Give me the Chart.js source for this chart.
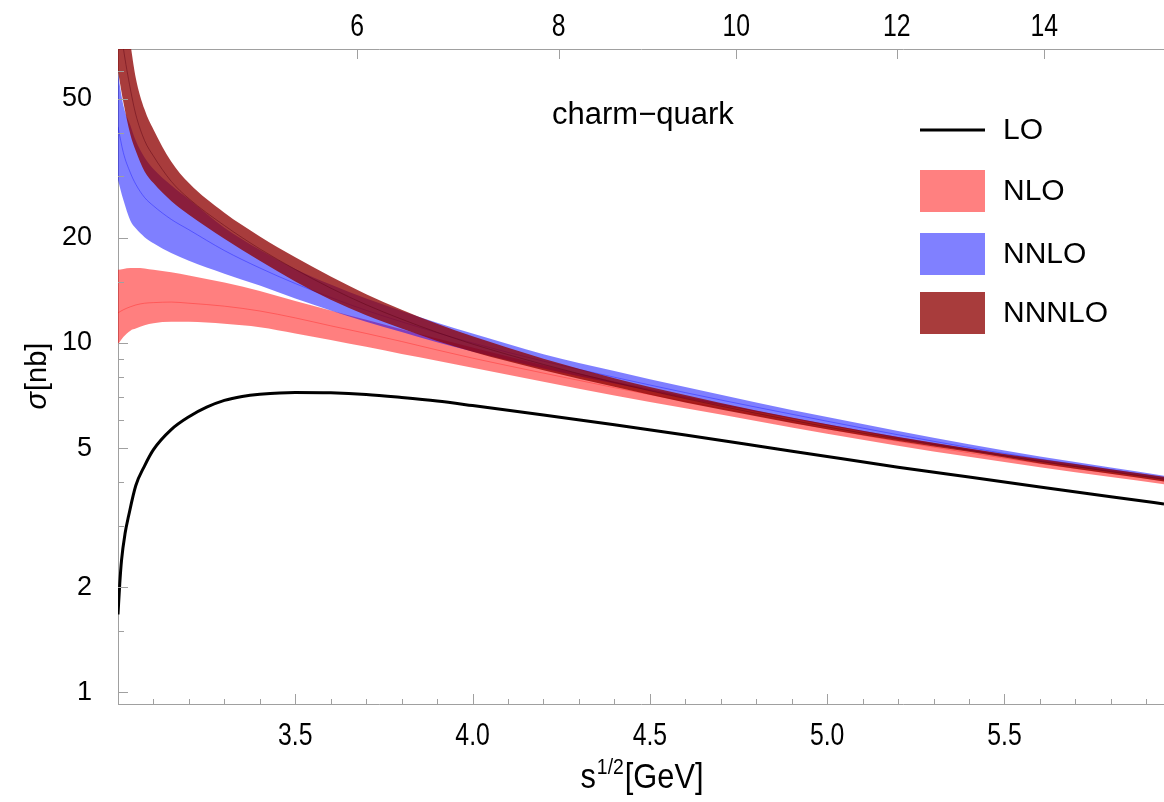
<!DOCTYPE html>
<html lang="en">
<head>
<meta charset="UTF-8">
<title>charm-quark cross section</title>
<script src="https://cdn.jsdelivr.net/npm/chart.js"></script>
<style>
  html, body { margin: 0; padding: 0; background: #fff; }
  #wrap { width: 1164px; height: 802px; }
</style>
</head>
<body>
<div id="wrap"><canvas id="sigmaChart"></canvas></div>
<script>
// sqrt(s) in GeV for the LO curve (denser near threshold)
const loEnergies = [3.0, 3.005, 3.01, 3.02, 3.03, 3.05, 3.075, 3.1, 3.15, 3.2, 3.25, 3.3, 3.35, 3.4, 3.5,
                    3.6, 3.7, 3.8, 3.9, 4.0, 4.2, 4.4, 4.6, 4.8, 5.0, 5.2, 5.4, 5.6, 5.8, 5.95];
const loSigma = [1.67, 2.05, 2.39, 2.85, 3.2, 3.9, 4.45, 4.95, 5.65, 6.15, 6.55, 6.85, 7.03, 7.13, 7.22,
                 7.2, 7.12, 6.98, 6.82, 6.62, 6.22, 5.83, 5.45, 5.08, 4.73, 4.41, 4.13, 3.87, 3.63, 3.46];

// sqrt(s) grid for the scale bands
const bandEnergies = [3.0, 3.015, 3.035, 3.05, 3.075, 3.1, 3.15, 3.2, 3.3, 3.4, 3.5, 3.6, 3.7, 3.8, 3.9,
                      4.0, 4.2, 4.4, 4.6, 4.8, 5.0, 5.2, 5.4, 5.6, 5.8, 5.95];

const nloLow  = [9.9, 10.4, 10.85, 11.0, 11.25, 11.4, 11.5, 11.5, 11.35, 11.1, 10.65, 10.2, 9.75, 9.3, 8.9,
                 8.5, 7.75, 7.07, 6.5, 5.98, 5.5, 5.08, 4.72, 4.41, 4.13, 3.94];
const nloMid  = [12.2, 12.45, 12.7, 12.85, 13.0, 13.05, 13.1, 13.0, 12.75, 12.35, 11.8, 11.2, 10.65, 10.1, 9.55,
                 9.05, 8.2, 7.45, 6.8, 6.22, 5.68, 5.23, 4.85, 4.52, 4.23, 4.03];
const nloHigh = [16.2, 16.3, 16.4, 16.4, 16.35, 16.2, 15.95, 15.6, 14.9, 14.1, 13.2, 12.4, 11.65, 10.95, 10.3,
                 9.7, 8.63, 7.76, 7.03, 6.4, 5.85, 5.38, 4.98, 4.62, 4.32, 4.1];

const nnloLow  = [29.3, 25.7, 22.4, 21.3, 20.1, 19.3, 18.1, 17.2, 15.8, 14.6, 13.4, 12.4, 11.5, 10.75, 10.05,
                  9.45, 8.45, 7.65, 6.95, 6.35, 5.81, 5.33, 4.92, 4.57, 4.28, 4.06];
const nnloMid  = [41.6, 35.1, 30.7, 28.5, 26.1, 24.7, 22.6, 21.1, 18.4, 16.4, 14.8, 13.5, 12.4, 11.5, 10.7,
                  10.0, 8.87, 7.98, 7.21, 6.55, 5.97, 5.46, 5.02, 4.65, 4.34, 4.11];
const nnloHigh = [59, 48, 42, 38, 34, 31.5, 28.3, 25.8, 21.4, 18.5, 16.3, 14.7, 13.4, 12.35, 11.43,
                  10.64, 9.29, 8.32, 7.48, 6.76, 6.14, 5.6, 5.13, 4.73, 4.4, 4.17];

const n3loLow  = [60, 49, 39.5, 35.5, 31.0, 28.7, 25.5, 23.3, 19.9, 17.2, 15.0, 13.3, 12.0, 11.0, 10.14,
                  9.44, 8.36, 7.5, 6.76, 6.17, 5.66, 5.24, 4.88, 4.52, 4.22, 4.01];
const n3loMid  = [91.7, 70, 53.3, 45.2, 38.0, 34.3, 29.05, 25.9, 21.7, 18.6, 16.25, 14.36, 12.87, 11.7, 10.73,
                  9.93, 8.68, 7.71, 6.93, 6.29, 5.75, 5.31, 4.93, 4.58, 4.28, 4.07];
const n3loHigh = [140, 100, 72, 57.5, 46.6, 40.9, 33.1, 28.7, 23.6, 20.2, 17.6, 15.5, 13.8, 12.45, 11.35,
                  10.45, 9.02, 7.93, 7.1, 6.41, 5.85, 5.38, 4.99, 4.65, 4.35, 4.14];

// ticks
const bottomTicks = [3.5, 4.0, 4.5, 5.0, 5.5];
const bottomMinorTicks = [3.1, 3.2, 3.3, 3.4, 3.6, 3.7, 3.8, 3.9, 4.1, 4.2, 4.3, 4.4, 4.6, 4.7, 4.8, 4.9,
                          5.1, 5.2, 5.3, 5.4, 5.6, 5.7, 5.8, 5.9];
const topTicks = [6, 8, 10, 12, 14];          // s / m_c^2
const mcSquared = 2.25;                       // m_c = 1.5 GeV
const yTicks = [1, 2, 5, 10, 20, 50];
const yMinorTicks = [1.5, 3, 4, 6, 7, 8, 9, 15, 30, 40, 60];

const legendLabels = ['LO', 'NLO', 'NNLO', 'NNNLO'];
const legendColors = ['#000000', 'rgb(255,128,128)', 'rgb(128,128,255)', 'rgb(168,60,60)'];

const FONT = "'Liberation Sans', Arial, sans-serif";
const frameColor = '#a0a0a0';

const pts = (xs, ys) => xs.map((x, i) => ({ x: x, y: ys[i] }));

function band(low, mid, high, fillColor, lineColor, order) {
    return [
        { data: pts(bandEnergies, low), borderWidth: 0, pointRadius: 0, fill: false, order: order },
        { data: pts(bandEnergies, high), borderWidth: 0, pointRadius: 0, fill: '-1',
          backgroundColor: fillColor, order: order },
        { data: pts(bandEnergies, mid), borderWidth: 1, borderColor: lineColor, pointRadius: 0,
          fill: false, order: order - 1 }
    ];
}

// draw text squeezed horizontally (the original uses a condensed face)
function narrowText(ctx, text, x, y, sx) {
    ctx.save();
    ctx.translate(x, y);
    ctx.scale(sx, 1);
    ctx.fillText(text, 0, 0);
    ctx.restore();
}

const decorations = {
    id: 'decorations',
    afterDraw(chart) {
        const { ctx, chartArea: a, scales } = chart;
        ctx.save();
        ctx.strokeStyle = frameColor;
        ctx.lineWidth = 1;
        ctx.beginPath();
        // bottom ticks (inward)
        bottomTicks.forEach(v => { const px = Math.round(scales.x.getPixelForValue(v)) + 0.5; ctx.moveTo(px, a.bottom); ctx.lineTo(px, a.bottom - 10); });
        bottomMinorTicks.forEach(v => { const px = Math.round(scales.x.getPixelForValue(v)) + 0.5; ctx.moveTo(px, a.bottom); ctx.lineTo(px, a.bottom - 5); });
        // top ticks
        topTicks.forEach(v => { const px = Math.round(scales.x2.getPixelForValue(Math.sqrt(v * mcSquared))) + 0.5; ctx.moveTo(px, a.top); ctx.lineTo(px, a.top + 10); });
        // left ticks
        yTicks.forEach(v => { const py = Math.round(scales.y.getPixelForValue(v)) + 0.5; ctx.moveTo(a.left, py); ctx.lineTo(a.left + 10, py); });
        yMinorTicks.forEach(v => { const py = Math.round(scales.y.getPixelForValue(v)) + 0.5; ctx.moveTo(a.left, py); ctx.lineTo(a.left + 6, py); });
        ctx.stroke();

        ctx.fillStyle = '#000';
        ctx.textBaseline = 'middle';
        // bottom / top tick labels
        ctx.font = '31px ' + FONT;
        ctx.textAlign = 'center';
        bottomTicks.forEach(v => narrowText(ctx, v.toFixed(1), scales.x.getPixelForValue(v), 736, 0.8));
        topTicks.forEach(v => narrowText(ctx, String(v), scales.x2.getPixelForValue(Math.sqrt(v * mcSquared)), 27, 0.8));
        ctx.textAlign = 'left';

        // annotation
        ctx.font = '31px ' + FONT;
        ctx.fillText('charm\u2212quark', 552, 115);

        // legend
        ctx.font = '30px ' + FONT;
        const rows = [130, 191, 254, 313];
        legendLabels.forEach((label, i) => {
            if (i === 0) {
                ctx.strokeStyle = legendColors[0];
                ctx.lineWidth = 3;
                ctx.beginPath(); ctx.moveTo(920, rows[0]); ctx.lineTo(985, rows[0]); ctx.stroke();
            } else {
                ctx.fillStyle = legendColors[i];
                ctx.fillRect(920, rows[i] - 21, 65, 42);
            }
            ctx.fillStyle = '#000';
            ctx.fillText(label, 1003, rows[i] + 1);
        });

        // x title: s^{1/2}[GeV]
        ctx.textBaseline = 'alphabetic';
        const sx = 0.88;
        const big = '35px ' + FONT, small = '22px ' + FONT;
        ctx.font = big; const w1 = ctx.measureText('s').width * sx, w3 = ctx.measureText('[GeV]').width * sx;
        ctx.font = small; const w2 = ctx.measureText('1/2').width * sx;
        const x0 = (a.left + a.right) / 2 - (w1 + w2 + w3) / 2;
        const base = 788;
        ctx.font = big; narrowText(ctx, 's', x0, base, sx);
        ctx.font = small; narrowText(ctx, '1/2', x0 + w1 + 1, base - 14, sx);
        ctx.font = big; narrowText(ctx, '[GeV]', x0 + w1 + w2 + 2, base, sx);

        // y title: sigma[nb]
        ctx.translate(38, (a.top + a.bottom) / 2);
        ctx.rotate(-Math.PI / 2);
        ctx.textBaseline = 'middle';
        ctx.font = 'italic 29px ' + FONT; const ws = ctx.measureText('\u03c3').width;
        ctx.font = '29px ' + FONT; const wn = ctx.measureText('[nb]').width;
        const y0 = -(ws + wn) / 2;
        ctx.font = 'italic 29px ' + FONT; ctx.fillText('\u03c3', y0, 0);
        ctx.font = '29px ' + FONT; ctx.fillText('[nb]', y0 + ws + 1, 0);
        ctx.restore();
    }
};

new Chart(document.getElementById('sigmaChart'), {
    type: 'line',
    data: {
        datasets: [
            { label: 'LO', data: pts(loEnergies, loSigma), borderColor: '#000', borderWidth: 3,
              pointRadius: 0, fill: false, order: 0 },
            ...band(n3loLow, n3loMid, n3loHigh, 'rgba(141,0,0,0.765)', 'rgba(90,0,20,0.45)', 10),
            ...band(nnloLow, nnloMid, nnloHigh, 'rgba(0,0,255,0.5)', 'rgba(0,0,255,0.35)', 20),
            ...band(nloLow, nloMid, nloHigh, 'rgba(255,0,0,0.5)', 'rgba(255,0,0,0.3)', 30)
        ]
    },
    options: {
        responsive: true,
        maintainAspectRatio: false,
        animation: false,
        layout: { padding: 0 },
        elements: { line: { cubicInterpolationMode: 'monotone' } },
        plugins: { legend: { display: false }, tooltip: { enabled: false } },
        scales: {
            x: {
                type: 'linear', position: 'bottom', min: 3.0, max: 5.95,
                grid: { display: false },
                border: { display: true, color: frameColor },
                afterBuildTicks: s => { s.ticks = bottomTicks.map(v => ({ value: v })); },
                afterFit: s => { s.height = 98; },
                ticks: { display: false }
            },
            x2: {
                type: 'linear', position: 'top', min: 3.0, max: 5.95,
                grid: { display: false },
                border: { display: true, color: frameColor },
                afterBuildTicks: s => { s.ticks = topTicks.map(v => ({ value: Math.sqrt(v * mcSquared) })); },
                afterFit: s => { s.height = 49; },
                ticks: { display: false }
            },
            y: {
                type: 'logarithmic', position: 'left', min: 0.925, max: 69.5,
                grid: { display: false },
                border: { display: true, color: frameColor },
                afterBuildTicks: s => { s.ticks = yTicks.map(v => ({ value: v })); },
                afterFit: s => { s.width = 118; },
                ticks: { color: '#000', padding: 18, font: { family: FONT, size: 27 },
                         callback: v => String(v) }
            }
        }
    },
    plugins: [decorations]
});
</script>
</body>
</html>
